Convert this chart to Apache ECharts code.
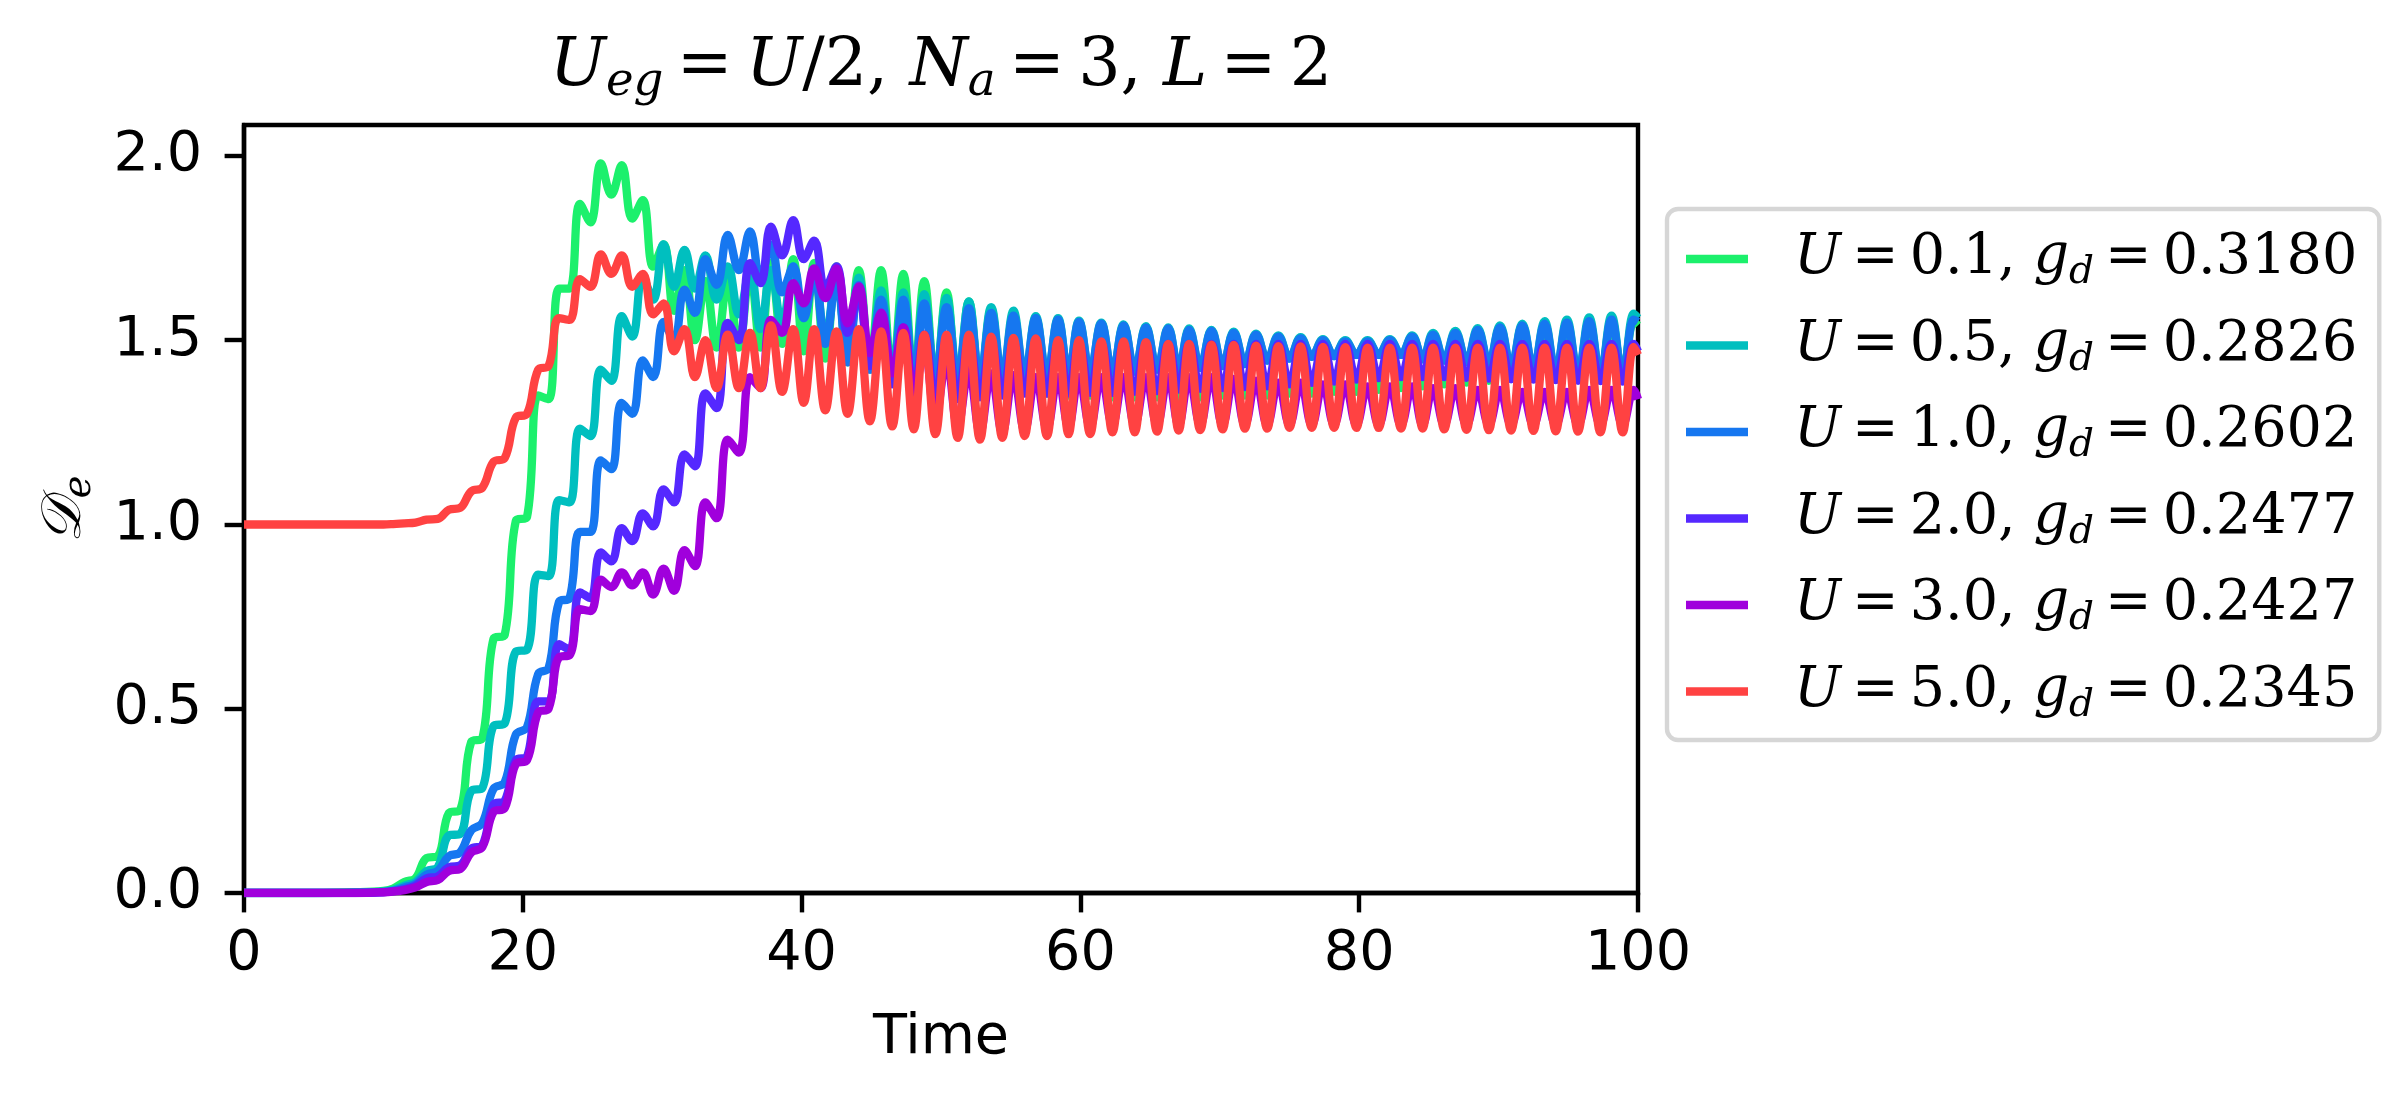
<!DOCTYPE html>
<html>
<head>
<meta charset="utf-8">
<script src="https://cdn.jsdelivr.net/npm/echarts@6/dist/echarts.min.js"></script>
<style>
html,body{margin:0;padding:0;background:#ffffff;}
#c{width:2404px;height:1104px;}
</style>
</head>
<body>
<div id="c"></div>
<script>
// ---- data (time grid at oscillation peaks / troughs) ----
const tGrid = [
  0, 5, 8, 10, 10.7, 11.5, 12.3, 13.1, 13.9, 14.7,
  15.5, 16.3, 17.1, 17.9, 18.7, 19.5, 20.3, 21.1, 21.85, 22.6,
  23.35, 24.1, 24.85, 25.6, 26.35, 27.1, 27.85, 28.6, 29.35, 30.1,
  30.85, 31.6, 32.35, 33.1, 33.9, 34.7, 35.5, 36.3, 37.05, 37.8,
  38.6, 39.4, 40.15, 40.9, 41.7, 42.5, 43.3, 44.1, 44.9, 45.7,
  46.5, 47.3, 48.05, 48.8, 49.6, 50.4, 51.2, 52.0, 52.8, 53.6,
  54.4, 55.2, 56.0, 56.8, 57.6, 58.4, 59.15, 59.9, 60.7, 61.5,
  62.3, 63.1, 63.9, 64.7, 65.5, 66.3, 67.05, 67.8, 68.6, 69.4,
  70.2, 71.0, 71.8, 72.6, 73.4, 74.2, 75.0, 75.8, 76.6, 77.4,
  78.2, 79.0, 79.8, 80.6, 81.4, 82.2, 83.0, 83.8, 84.55, 85.3,
  86.1, 86.9, 87.7, 88.5, 89.3, 90.1, 90.9, 91.7, 92.5, 93.3,
  94.1, 94.9, 95.7, 96.5, 97.3, 98.1, 98.9, 99.7, 100
];

const uLabels  = ['0.1', '0.5', '1.0', '2.0', '3.0', '5.0'];
const gdLabels = ['0.3180', '0.2826', '0.2602', '0.2477', '0.2427', '0.2345'];

const deU01 = [
  0, 0, 0.002, 0.006, 0.012, 0.03, 0.04, 0.095, 0.10, 0.217,
  0.225, 0.41, 0.42, 0.69, 0.70, 1.01, 1.02, 1.35, 1.34, 1.64,
  1.64, 1.87, 1.82, 1.98, 1.895, 1.975, 1.83, 1.88, 1.70, 1.76,
  1.58, 1.69, 1.50, 1.66, 1.48, 1.66, 1.48, 1.69, 1.48, 1.71,
  1.49, 1.72, 1.47, 1.71, 1.45, 1.70, 1.44, 1.69, 1.43, 1.69,
  1.40, 1.68, 1.39, 1.66, 1.38, 1.63, 1.375, 1.605, 1.37, 1.585,
  1.365, 1.565, 1.36, 1.55, 1.355, 1.535, 1.35, 1.52, 1.35, 1.51,
  1.345, 1.505, 1.345, 1.50, 1.345, 1.495, 1.345, 1.49, 1.345, 1.485,
  1.35, 1.48, 1.35, 1.48, 1.35, 1.475, 1.355, 1.475, 1.355, 1.475,
  1.36, 1.475, 1.36, 1.48, 1.365, 1.485, 1.37, 1.49, 1.375, 1.495,
  1.38, 1.50, 1.385, 1.51, 1.39, 1.515, 1.395, 1.52, 1.40, 1.53,
  1.40, 1.535, 1.405, 1.54, 1.405, 1.545, 1.41, 1.55, 1.54
];

const deU05 = [
  0, 0, 0.001, 0.004, 0.008, 0.02, 0.03, 0.06, 0.07, 0.156,
  0.16, 0.277, 0.285, 0.453, 0.46, 0.655, 0.66, 0.864, 0.86, 1.066,
  1.06, 1.26, 1.24, 1.42, 1.39, 1.565, 1.51, 1.673, 1.61, 1.76,
  1.645, 1.745, 1.64, 1.73, 1.61, 1.70, 1.57, 1.69, 1.53, 1.69,
  1.54, 1.70, 1.56, 1.69, 1.50, 1.68, 1.45, 1.67, 1.42, 1.635,
  1.40, 1.63, 1.39, 1.625, 1.39, 1.615, 1.39, 1.605, 1.39, 1.59,
  1.395, 1.58, 1.40, 1.565, 1.40, 1.56, 1.405, 1.553, 1.41, 1.548,
  1.41, 1.543, 1.415, 1.538, 1.42, 1.535, 1.42, 1.532, 1.425, 1.528,
  1.43, 1.523, 1.435, 1.518, 1.445, 1.513, 1.45, 1.508, 1.455, 1.503,
  1.457, 1.50, 1.46, 1.50, 1.46, 1.503, 1.46, 1.513, 1.448, 1.52,
  1.445, 1.525, 1.44, 1.533, 1.435, 1.54, 1.425, 1.545, 1.42, 1.552,
  1.412, 1.556, 1.406, 1.562, 1.403, 1.567, 1.40, 1.572, 1.56
];

const deU10 = [
  0, 0, 0.001, 0.003, 0.006, 0.015, 0.025, 0.05, 0.06, 0.10,
  0.11, 0.17, 0.19, 0.283, 0.30, 0.43, 0.45, 0.594, 0.61, 0.79,
  0.80, 0.98, 0.98, 1.174, 1.15, 1.33, 1.30, 1.445, 1.40, 1.55,
  1.50, 1.637, 1.574, 1.72, 1.65, 1.786, 1.69, 1.795, 1.664, 1.76,
  1.63, 1.70, 1.56, 1.68, 1.49, 1.67, 1.44, 1.65, 1.42, 1.61,
  1.40, 1.61, 1.39, 1.60, 1.39, 1.59, 1.39, 1.587, 1.39, 1.574,
  1.395, 1.567, 1.40, 1.56, 1.40, 1.556, 1.405, 1.55, 1.41, 1.545,
  1.41, 1.54, 1.415, 1.535, 1.42, 1.532, 1.42, 1.528, 1.425, 1.525,
  1.43, 1.52, 1.435, 1.515, 1.445, 1.51, 1.45, 1.505, 1.455, 1.50,
  1.457, 1.497, 1.46, 1.497, 1.46, 1.50, 1.46, 1.51, 1.448, 1.515,
  1.445, 1.52, 1.44, 1.528, 1.435, 1.535, 1.425, 1.54, 1.42, 1.545,
  1.412, 1.548, 1.406, 1.552, 1.403, 1.556, 1.40, 1.556, 1.55
];

const deU20 = [
  0, 0, 0, 0.002, 0.005, 0.01, 0.02, 0.04, 0.045, 0.07,
  0.075, 0.12, 0.13, 0.24, 0.25, 0.36, 0.37, 0.52, 0.52, 0.675,
  0.66, 0.816, 0.80, 0.924, 0.90, 0.99, 0.955, 1.03, 0.995, 1.095,
  1.06, 1.19, 1.158, 1.356, 1.316, 1.547, 1.50, 1.709, 1.655, 1.808,
  1.73, 1.826, 1.72, 1.77, 1.64, 1.70, 1.52, 1.63, 1.43, 1.57,
  1.38, 1.535, 1.35, 1.515, 1.34, 1.505, 1.34, 1.50, 1.345, 1.495,
  1.35, 1.495, 1.355, 1.49, 1.355, 1.49, 1.355, 1.49, 1.357, 1.49,
  1.357, 1.49, 1.36, 1.49, 1.362, 1.49, 1.366, 1.49, 1.368, 1.49,
  1.37, 1.49, 1.373, 1.49, 1.375, 1.49, 1.38, 1.49, 1.384, 1.49,
  1.388, 1.49, 1.393, 1.49, 1.397, 1.49, 1.40, 1.49, 1.40, 1.49,
  1.40, 1.49, 1.398, 1.49, 1.396, 1.49, 1.394, 1.49, 1.393, 1.49,
  1.392, 1.49, 1.39, 1.49, 1.389, 1.49, 1.388, 1.49, 1.47
];

const deU30 = [
  0, 0, 0, 0.002, 0.004, 0.008, 0.015, 0.03, 0.035, 0.06,
  0.065, 0.11, 0.125, 0.22, 0.23, 0.35, 0.36, 0.49, 0.50, 0.64,
  0.645, 0.77, 0.765, 0.85, 0.83, 0.87, 0.835, 0.87, 0.81, 0.88,
  0.82, 0.93, 0.887, 1.06, 1.017, 1.23, 1.195, 1.40, 1.37, 1.555,
  1.52, 1.655, 1.60, 1.695, 1.614, 1.695, 1.546, 1.646, 1.465, 1.575,
  1.41, 1.535, 1.35, 1.48, 1.29, 1.445, 1.265, 1.42, 1.25, 1.41,
  1.25, 1.405, 1.255, 1.40, 1.26, 1.40, 1.265, 1.40, 1.265, 1.40,
  1.27, 1.40, 1.27, 1.40, 1.27, 1.40, 1.27, 1.40, 1.27, 1.40,
  1.27, 1.395, 1.27, 1.39, 1.27, 1.385, 1.27, 1.385, 1.27, 1.38,
  1.27, 1.38, 1.27, 1.375, 1.27, 1.375, 1.27, 1.375, 1.27, 1.37,
  1.27, 1.37, 1.27, 1.365, 1.27, 1.365, 1.27, 1.36, 1.27, 1.36,
  1.27, 1.36, 1.27, 1.365, 1.27, 1.365, 1.27, 1.365, 1.34
];

const deU50 = [
  1.0, 1.0, 1.0, 1.0, 1.001, 1.003, 1.005, 1.013, 1.015, 1.04,
  1.045, 1.09, 1.10, 1.17, 1.18, 1.29, 1.30, 1.42, 1.43, 1.56,
  1.555, 1.666, 1.645, 1.733, 1.68, 1.73, 1.645, 1.68, 1.57, 1.60,
  1.47, 1.53, 1.40, 1.50, 1.37, 1.515, 1.37, 1.52, 1.37, 1.54,
  1.36, 1.53, 1.33, 1.53, 1.31, 1.524, 1.30, 1.53, 1.28, 1.524,
  1.266, 1.52, 1.258, 1.515, 1.245, 1.515, 1.235, 1.515, 1.23, 1.51,
  1.235, 1.506, 1.24, 1.505, 1.24, 1.50, 1.245, 1.50, 1.245, 1.497,
  1.25, 1.497, 1.25, 1.495, 1.252, 1.49, 1.255, 1.49, 1.256, 1.488,
  1.258, 1.487, 1.26, 1.485, 1.26, 1.484, 1.262, 1.483, 1.262, 1.482,
  1.262, 1.481, 1.262, 1.48, 1.262, 1.48, 1.26, 1.48, 1.26, 1.48,
  1.258, 1.48, 1.257, 1.48, 1.256, 1.48, 1.255, 1.48, 1.254, 1.48,
  1.253, 1.48, 1.252, 1.48, 1.25, 1.48, 1.25, 1.482, 1.46
];

const seriesValues = [deU01, deU05, deU10, deU20, deU30, deU50];
const seriesColors = ['#1cf06c', '#00bfbf', '#1677f0', '#5528ff', '#a000dc', '#ff4242'];

// ---- chart ----
const chart = echarts.init(document.getElementById('c'), null, {width: 2404, height: 1104});

const names = uLabels.map((u, i) => 'U=' + u + ', g_d=' + gdLabels[i]);

const series = seriesValues.map((vals, i) => ({
  name: names[i],
  type: 'line',
  data: tGrid.map((t, k) => [t, vals[k]]),
  symbol: 'none',
  smooth: 0.4,
  color: seriesColors[i],
  lineStyle: {width: 8.3, color: seriesColors[i]},
  emphasis: {disabled: true},
  silent: true,
  clip: true
}));

const serif = 'DejaVu Serif';
const sans = 'DejaVu Sans';
const EQ = '\u2009=\u2009';

const option = {
  backgroundColor: '#ffffff',
  animation: false,
  title: {
    text: '{i|U}{s|eg}{t|' + EQ + '}{i|U}{t|/2, }{i|N}{s|a}{t|' + EQ + '3, }{i|L}{t|' + EQ + '2}',
    left: 941,
    top: 30,
    padding: 0,
    textAlign: 'center',
    textStyle: {
      fontWeight: 'normal',
      rich: {
        i: {fontFamily: serif, fontStyle: 'italic', fontWeight: 'normal', fontSize: 66.7, color: '#000', verticalAlign: 'middle'},
        t: {fontFamily: serif, fontWeight: 'normal', fontSize: 66.7, color: '#000', verticalAlign: 'middle'},
        s: {fontFamily: serif, fontStyle: 'italic', fontWeight: 'normal', fontSize: 46.7, color: '#000', verticalAlign: 'bottom', padding: [29, 0, 0, 0]}
      }
    }
  },
  grid: {
    left: 244, top: 125, width: 1394, height: 768,
    show: true, borderColor: '#000', borderWidth: 4.4, backgroundColor: 'transparent'
  },
  xAxis: {
    type: 'value', min: 0, max: 100, interval: 20,
    axisLine: {show: true, onZero: false, lineStyle: {color: '#000', width: 4.4}},
    axisTick: {show: true, inside: false, length: 19.4, lineStyle: {color: '#000', width: 4.4}},
    axisLabel: {margin: 34, fontFamily: sans, fontSize: 55.6, color: '#000'},
    splitLine: {show: false},
    name: 'Time', nameLocation: 'middle', nameGap: 118,
    nameTextStyle: {fontFamily: sans, fontSize: 55.6, color: '#000'}
  },
  yAxis: {
    type: 'value', min: 0, max: 2.084, interval: 0.5,
    axisLine: {show: true, onZero: false, lineStyle: {color: '#000', width: 4.4}},
    axisTick: {show: true, inside: false, length: 19.4, lineStyle: {color: '#000', width: 4.4},
      customValues: [0, 0.5, 1.0, 1.5, 2.0]},
    axisLabel: {margin: 42, fontFamily: sans, fontSize: 55.6, color: '#000',
      customValues: [0, 0.5, 1.0, 1.5, 2.0],
      formatter: v => Number(v).toFixed(1)},
    splitLine: {show: false},
    name: '{c|\u{1D49F}}{s|e}', nameLocation: 'middle', nameGap: 145, nameRotate: 90,
    nameTextStyle: {
      rich: {
        c: {fontFamily: serif, fontStyle: 'italic', fontSize: 55.6, color: '#000', verticalAlign: 'middle'},
        s: {fontFamily: serif, fontStyle: 'italic', fontSize: 39, color: '#000', verticalAlign: 'bottom', padding: [28, 0, 0, 0]}
      }
    }
  },
  legend: {
    show: true,
    orient: 'vertical',
    left: 1667,
    top: 209,
    padding: [22, 22, 15, 19],
    itemGap: 25,
    itemWidth: 62,
    itemHeight: 8.3,
    icon: 'rect',
    selectedMode: false,
    backgroundColor: 'rgba(255,255,255,0.8)',
    borderColor: '#d6d6d6',
    borderWidth: 4.4,
    borderRadius: 11,
    data: names,
    formatter: function (name) {
      const i = names.indexOf(name);
      return '{iu|U}{t|' + EQ + uLabels[i] + ', }{i|g}{s|d}{t|' + EQ + gdLabels[i] + '}';
    },
    textStyle: {
      color: '#000',
      fontFamily: serif,
      fontSize: 55.6,
      rich: {
        iu: {fontFamily: serif, fontStyle: 'italic', fontSize: 55.6, color: '#000', verticalAlign: 'middle', padding: [0, 0, 0, 41]},
        i: {fontFamily: serif, fontStyle: 'italic', fontSize: 55.6, color: '#000', verticalAlign: 'middle'},
        t: {fontFamily: serif, fontSize: 55.6, color: '#000', verticalAlign: 'middle'},
        s: {fontFamily: serif, fontStyle: 'italic', fontSize: 39, color: '#000', verticalAlign: 'bottom', padding: [28, 0, 0, 0]}
      }
    }
  },
  series: series
};

chart.setOption(option);
</script>
</body>
</html>
